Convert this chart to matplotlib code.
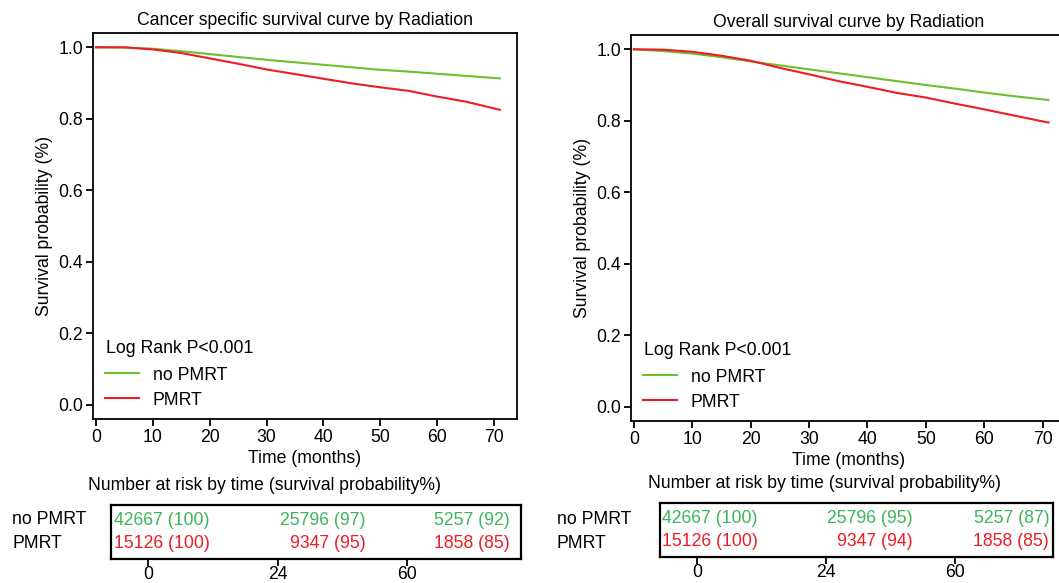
import matplotlib
matplotlib.use('Agg')
import matplotlib.pyplot as plt
from matplotlib.lines import Line2D

plt.rcParams['font.family'] = ['Liberation Sans', 'DejaVu Sans']
fs = 12.7
plt.rcParams['font.size'] = fs

# survival curves
t = [0, 5, 10, 15, 20, 25, 30, 35, 40, 45, 50, 55, 60, 65, 71]
css_no = [1.0, 0.999, 0.996, 0.989, 0.981, 0.973, 0.965, 0.958, 0.951, 0.944, 0.937, 0.932, 0.926, 0.92, 0.913]
css_pm = [1.0, 1.0, 0.994, 0.984, 0.969, 0.954, 0.938, 0.925, 0.912, 0.899, 0.888, 0.878, 0.862, 0.848, 0.825]
os_no = [1.0, 0.995, 0.988, 0.978, 0.966, 0.955, 0.944, 0.933, 0.922, 0.911, 0.9, 0.89, 0.879, 0.869, 0.858]
os_pm = [1.0, 0.999, 0.993, 0.982, 0.968, 0.948, 0.93, 0.911, 0.895, 0.878, 0.865, 0.848, 0.832, 0.815, 0.795]

risk_times = ['0', '24', '60']
css_risk_no = ['42667 (100)', '25796 (97)', '5257 (92)']
css_risk_pm = ['15126 (100)', '9347 (95)', '1858 (85)']
os_risk_no = ['42667 (100)', '25796 (95)', '5257 (87)']
os_risk_pm = ['15126 (100)', '9347 (94)', '1858 (85)']

titles = ['Cancer specific survival curve by Radiation', 'Overall survival curve by Radiation']

c_green = '#6cbf2e'
c_red = '#ee1c25'
c_tgreen = '#3cb55a'

W, H = 1059, 583
fig = plt.figure(figsize=(W / 100, H / 100), dpi=100)


def box(l, r, top, bot):
    return [l / W, 1 - bot / H, (r - l) / W, (bot - top) / H]


panels = [
    dict(ax=box(93, 517, 33, 419), tab=box(111, 521, 505, 559), tab_x=(-0.286, 2.88),
         col_x=(-0.26, 1.68, 2.79), lab_x=12, tab_title=(265, 486),
         no=css_no, pm=css_pm, rno=css_risk_no, rpm=css_risk_pm),
    dict(ax=box(631, 1066, 35, 421), tab=box(660, 1053, 503, 557), tab_x=(-0.287, 2.76),
         col_x=(-0.27, 1.67, 2.73), lab_x=557, tab_title=(825, 483),
         no=os_no, pm=os_pm, rno=os_risk_no, rpm=os_risk_pm),
]

for i, p in enumerate(panels):
    ax = fig.add_axes(p['ax'])
    ax.plot(t, p['no'], color=c_green, lw=1.5)
    ax.plot(t, p['pm'], color=c_red, lw=1.5)
    ax.set_xlim(-0.5, 74)
    ax.set_ylim(-0.04, 1.04)
    ax.set_xticks(range(0, 80, 10))
    ax.set_yticks([0, 0.2, 0.4, 0.6, 0.8, 1.0])
    ax.set_yticklabels(['0.0', '0.2', '0.4', '0.6', '0.8', '1.0'])
    for s in ax.spines.values():
        s.set_linewidth(1.3)
    ax.tick_params(width=1.3, length=5, pad=2)
    ax.set_title(titles[i], fontsize=fs, pad=6)
    ax.set_xlabel('Time (months)', fontsize=fs, labelpad=3)
    ax.set_ylabel('Survival probability (%)', fontsize=fs, labelpad=4)
    ax.text(0.03, 0.17, 'Log Rank P<0.001', transform=ax.transAxes, fontsize=fs)
    handles = [Line2D([], [], color=c_green, lw=1.5), Line2D([], [], color=c_red, lw=1.5)]
    ax.legend(handles, ['no PMRT', 'PMRT'], loc='lower left', bbox_to_anchor=(0.0, -0.005),
              frameon=False, fontsize=fs, handlelength=1.9, handletextpad=0.8,
              labelspacing=0.45, borderaxespad=0.3)

    tb = fig.add_axes(p['tab'])
    tb.set_xlim(*p['tab_x'])
    tb.set_ylim(0, 1)
    tb.set_yticks([])
    tb.set_xticks(range(len(risk_times)))
    tb.set_xticklabels(risk_times)
    tb.tick_params(axis='x', width=1.3, length=5, pad=0)
    for s in tb.spines.values():
        s.set_linewidth(1.6)
    for j in range(len(risk_times)):
        ha = 'left' if j == 0 else 'right'
        tb.text(p['col_x'][j], 0.72, p['rno'][j], color=c_tgreen, ha=ha, va='center', fontsize=fs)
        tb.text(p['col_x'][j], 0.28, p['rpm'][j], color=c_red, ha=ha, va='center', fontsize=fs)
    fig.text(p['lab_x'] / W, 1 - 520 / H, 'no PMRT', ha='left', va='center', fontsize=fs)
    fig.text(p['lab_x'] / W, 1 - 544 / H, 'PMRT', ha='left', va='center', fontsize=fs)
    fig.text(p['tab_title'][0] / W, 1 - p['tab_title'][1] / H,
             'Number at risk by time (survival probability%)', ha='center', va='center', fontsize=fs)

fig.savefig('out.png', dpi=100)
